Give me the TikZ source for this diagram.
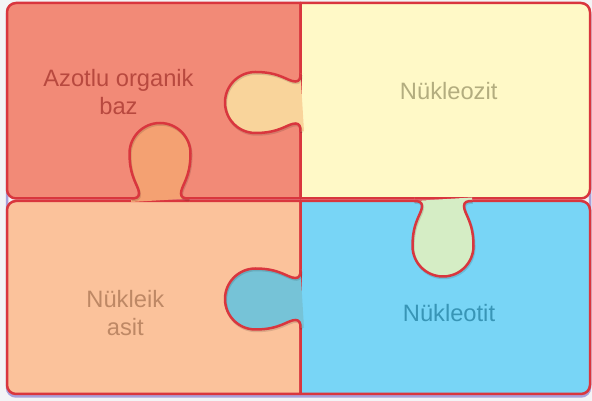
\documentclass[tikz,border=0pt]{standalone}
\usepackage{fontspec}
\setmainfont{Liberation Sans}
\begin{document}
\begin{tikzpicture}[x=1pt,y=1pt,
    piece/.style={draw=kRed,line width=2.5pt,line join=round},
    tabline/.style={draw=kRed,line width=2.5pt},
    tabshade/.style={draw=black,opacity=0.12,line width=2.5pt},
    word/.style={inner sep=0pt,align=center,font=\fontsize{23.7}{28}\selectfont},
    tabpath/.style={insert path={(0,-29) .. controls (0,-24) and (1,-21) .. (5,-21)
      .. controls (13,-21) and (20,-30.5) .. (45,-30.5)
      arc[start angle=-90,end angle=90,radius=30.5]
      .. controls (20,30.5) and (13,21) .. (5,21)
      .. controls (1,21) and (0,24) .. (0,29)}}]
  % colors
  \definecolor{kBack}{HTML}{F3F4F6}
  \definecolor{kShade}{HTML}{A9A1DA}
  \definecolor{kRed}{HTML}{D9363E}
  \definecolor{kSalmon}{HTML}{F28A77}
  \definecolor{kYellow}{HTML}{FFF9C7}
  \definecolor{kPeach}{HTML}{FBC29B}
  \definecolor{kBlue}{HTML}{78D5F6}
  \definecolor{kPeachTab}{HTML}{F9D49B}
  \definecolor{kOrangeTab}{HTML}{F4A172}
  \definecolor{kTealTab}{HTML}{76C3D7}
  \definecolor{kGreenTab}{HTML}{D5EDC5}
  \definecolor{kSalmonText}{HTML}{B8493F}
  \definecolor{kYellowText}{HTML}{B3AD7F}
  \definecolor{kPeachText}{HTML}{BE8865}
  \definecolor{kBlueText}{HTML}{3895B6}
  \useasboundingbox (0,0) rectangle (592,401);
  \fill[kBack] (0,0) rectangle (592,401);
  % shadow under the puzzle
  \draw[kShade,line width=2.5pt,rounded corners=9] (7,4.5) rectangle (590,395.5);
  % pieces
  \draw[piece,fill=kSalmon] (300.5,202.5) -- (300.5,398) -- (16,398)
    arc[start angle=90,end angle=180,radius=9] -- (7,211.5)
    arc[start angle=180,end angle=270,radius=9] -- cycle;
  \draw[piece,fill=kYellow] (300.5,202.5) -- (300.5,398) -- (581,398)
    arc[start angle=90,end angle=0,radius=9] -- (590,211.5)
    arc[start angle=0,end angle=-90,radius=9] -- cycle;
  \draw[piece,fill=kPeach] (300.5,200) -- (300.5,7) -- (16,7)
    arc[start angle=270,end angle=180,radius=9] -- (7,191)
    arc[start angle=180,end angle=90,radius=9] -- cycle;
  \draw[piece,fill=kBlue] (300.5,200) -- (300.5,7) -- (581,7)
    arc[start angle=-90,end angle=0,radius=9] -- (590,191)
    arc[start angle=0,end angle=90,radius=9] -- cycle;
  % tabs
  \foreach \px/\py/\rot/\col in {300.5/298.5/180/kPeachTab, 160/202.5/90/kOrangeTab,
      300.5/102/180/kTealTab, 443/200/-90/kGreenTab}{
    \begin{scope}[shift={(\px,\py)},rotate=\rot]
      \fill[\col] (-3.5,-29) -- (0,-29) [tabpath] -- (-3.5,29) -- cycle;
    \end{scope}
    \begin{scope}[shift={(\px+0.8,\py-1.5)},rotate=\rot]
      \draw[tabshade] [tabpath];
    \end{scope}
    \begin{scope}[shift={(\px,\py)},rotate=\rot]
      \draw[tabline] [tabpath];
    \end{scope}
  }
  % labels
  \node[word,text=kSalmonText] (base) at (118.5,308.5) {Azotlu organik\\baz};
  \node[word,text=kYellowText,anchor=base] (nucleoside) at (448.7,301) {Nükleozit};
  \node[word,text=kPeachText] (acid) at (125.3,88.3) {Nükleik\\asit};
  \node[word,text=kBlueText,anchor=base] (nucleotide) at (449,79.3) {Nükleotit};
\end{tikzpicture}
\end{document}
